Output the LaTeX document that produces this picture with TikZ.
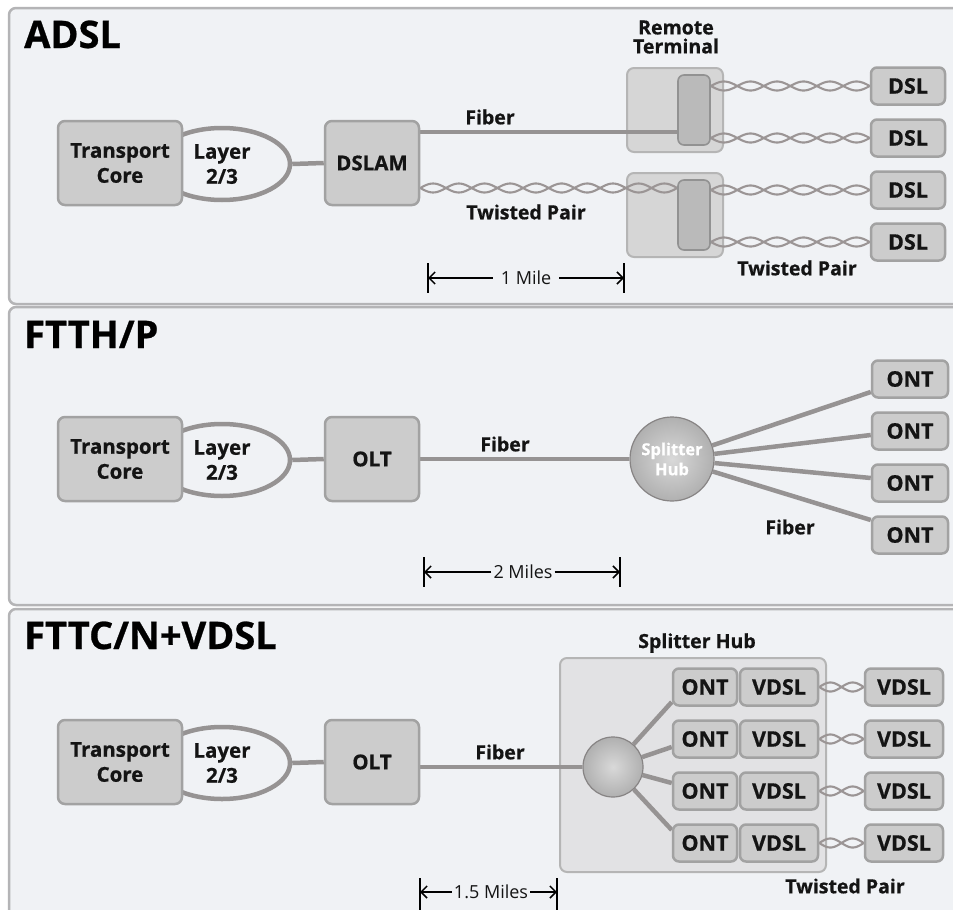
\documentclass[tikz,border=0pt]{standalone}
\usepackage{fontspec}
\setmainfont{Open Sans}[BoldFeatures={FakeBold=0.7}]
\usetikzlibrary{shapes.geometric,arrows.meta,calc}

\definecolor{panelbg}{RGB}{240,242,245}
\definecolor{panelrule}{RGB}{180,180,182}
\definecolor{boxfill}{RGB}{204,204,204}
\definecolor{boxrule}{RGB}{162,162,162}
\definecolor{wire}{RGB}{150,147,147}
\definecolor{strandc}{RGB}{155,149,149}
\definecolor{rtfill}{RGB}{214,214,214}
\definecolor{rtcore}{RGB}{186,186,186}
\definecolor{hubfill}{RGB}{226,226,228}
\definecolor{ink}{RGB}{20,20,20}

\pgfdeclarelayer{back}
\pgfdeclarelayer{front}
\pgfsetlayers{back,main,front}

% a twisted copper pair between two points on one horizontal line
\newcommand\twistpair[2]{%
  \foreach \sgn in {1,-1}{%
    \draw[strand] let \p1=(#1), \p2=(#2),
        \n1={scalar(\x1)}, \n2={scalar(\x2)}, \n3={scalar(-\y1)},
        \n4={max(1,round((scalar(\x2)-scalar(\x1))/27))} in
      plot[variable=\t, domain=\n1:\n2, samples=140]
        ({\t},{\n3+\sgn*4.5*sin(180*\n4*((\t-\n1)/(\n2-\n1)))});
  }%
}

\begin{document}
\begin{tikzpicture}[x=1pt,y=-1pt,
  panel/.style={draw=panelrule, line width=2.5pt, fill=panelbg, rounded corners=7pt},
  unit/.style={draw=boxrule, line width=2.5pt, fill=boxfill, rounded corners=7pt,
    text=ink, font=\fontsize{20.5}{25}\selectfont\bfseries, align=center, inner sep=0pt},
  tcbox/.style={unit, minimum width=124pt, minimum height=84pt},
  midbox/.style={unit, minimum width=94pt, minimum height=84pt},
  endbox/.style={unit, rounded corners=6pt, minimum width=74pt, minimum height=37pt,
    font=\fontsize{21.5}{24}\selectfont\bfseries},
  loop/.style={ellipse, draw=wire, line width=4.5pt, fill=panelbg, minimum width=136pt,
    minimum height=72pt, inner sep=0pt, text=ink, align=center,
    font=\fontsize{20.5}{25}\selectfont\bfseries},
  rtbox/.style={draw=boxrule!80, line width=2pt, fill=rtfill, rounded corners=7pt,
    minimum width=96pt, minimum height=84pt, inner sep=0pt},
  rtin/.style={draw=boxrule!90!black, line width=1.6pt, fill=rtcore, rounded corners=6pt,
    minimum width=32pt, minimum height=70pt, inner sep=0pt},
  hubbox/.style={draw=boxrule!80, line width=2pt, fill=hubfill, rounded corners=7pt,
    minimum width=266pt, minimum height=214pt, inner sep=0pt},
  sphere/.style={circle, draw=wire!90!black, line width=1.2pt, shading=radial,
    inner color=gray!30, outer color=gray!62, inner sep=0pt},
  wire/.style={draw=wire, line width=4.5pt},
  strand/.style={draw=strandc, line width=2.1pt},
  lbl/.style={text=ink, font=\fontsize{19.5}{21}\selectfont\bfseries, inner sep=0pt, align=center},
  ttl/.style={text=black, font=\fontsize{38}{42}\selectfont\bfseries, inner sep=0pt, anchor=base west},
  dimtext/.style={text=ink, font=\fontsize{18}{20}\selectfont, inner ysep=0pt, inner xsep=2pt},
  dimbar/.style={draw=black, line width=1.8pt},
  dimarrow/.style={draw=black, line width=1.5pt, -{Straight Barb[length=6pt,width=12pt]}}
]
\useasboundingbox (0,0) rectangle (953,910);

% ---------------- panels ----------------
\begin{pgfonlayer}{back}
  \fill[white] (0,0) rectangle (953,910);
  \draw[panel] (9,8) rectangle (975,304);
  \draw[panel] (9,307) rectangle (975,605);
  \draw[panel] (9,609) rectangle (975,940);
\end{pgfonlayer}

\node[ttl] (tADSL) at (24,48) {ADSL};
\node[ttl] (tFTTH) at (24,348) {FTTH/P};
\node[ttl] (tFTTC) at (24,649) {FTTC/N+VDSL};

% ---------------- ADSL ----------------
\begin{pgfonlayer}{back}
  \node[loop] (ly1) at (222,164) {Layer\\2/3};
  \node[tcbox] (tc1) at (120,163) {Transport\\Core};
  \node[rtbox] (rt1) at (675,110) {};
  \node[rtbox] (rt2) at (675,215) {};
\end{pgfonlayer}
\begin{pgfonlayer}{front}
  \node[midbox] (dslam) at (372,163) {DSLAM};
  \node[rtin] (rt1in) at (694,110) {};
  \node[rtin] (rt2in) at (694,215) {};
  \node[endbox] (dsl1) at (908,86) {DSL};
  \node[endbox] (dsl2) at (908,138) {DSL};
  \node[endbox] (dsl3) at (908,190) {DSL};
  \node[endbox] (dsl4) at (908,242) {DSL};
\end{pgfonlayer}
\node[lbl, font=\fontsize{19.5}{19}\selectfont\bfseries] (rtl) at (676,37) {Remote\\Terminal};
\node[lbl] (fib1) at (490,117) {Fiber};
\node[lbl] (tp1) at (526,212) {Twisted Pair};
\node[lbl] (tp2) at (797,268) {Twisted Pair};

\draw[wire] (ly1.east) -- (dslam.west);
\draw[wire] ([yshift=31pt]dslam.east) -- ([yshift=31pt]dslam.east -| rt1in.west);
\twistpair{[yshift=-25pt]dslam.east}{[yshift=-25pt]dslam.east -| rt2in.west}
\twistpair{rt1in.east |- dsl1.west}{dsl1.west}
\twistpair{rt1in.east |- dsl2.west}{dsl2.west}
\twistpair{rt2in.east |- dsl3.west}{dsl3.west}
\twistpair{rt2in.east |- dsl4.west}{dsl4.west}

\coordinate (m1l) at (428,278);
\coordinate (m1r) at (624,278);
\node[dimtext, inner xsep=8pt] (m1t) at (526,278) {1 Mile};
\draw[dimbar] ([yshift=15pt]m1l) -- ([yshift=-15pt]m1l);
\draw[dimbar] ([yshift=15pt]m1r) -- ([yshift=-15pt]m1r);
\draw[dimarrow] (m1t.west) -- (m1l);
\draw[dimarrow] (m1t.east) -- (m1r);

% ---------------- FTTH/P ----------------
\begin{pgfonlayer}{back}
  \node[loop] (ly2) at (222,460) {Layer\\2/3};
  \node[tcbox] (tc2) at (120,459) {Transport\\Core};
\end{pgfonlayer}
\begin{pgfonlayer}{front}
  \node[midbox] (olt2) at (372,459) {OLT};
  \node[sphere, minimum size=84pt, text=white, align=center,
        font=\fontsize{16.5}{20}\selectfont\bfseries] (hub2) at (672,459) {Splitter\\Hub};
  \node[endbox, minimum width=76pt] (ont1) at (910,379) {ONT};
  \node[endbox, minimum width=76pt] (ont2) at (910,431) {ONT};
  \node[endbox, minimum width=76pt] (ont3) at (910,483) {ONT};
  \node[endbox, minimum width=76pt] (ont4) at (910,535) {ONT};
\end{pgfonlayer}
\node[lbl] (fib2) at (505,444) {Fiber};
\node[lbl] (fib3) at (790,527) {Fiber};

\draw[wire] (ly2.east) -- (olt2.west);
\draw[wire] (olt2.east) -- (hub2);
\draw[wire] (hub2) -- ([yshift=-13pt]ont1.west);
\draw[wire] (hub2) -- ([yshift=-4pt]ont2.west);
\draw[wire] (hub2) -- ([yshift=5pt]ont3.west);
\draw[wire] (hub2) -- ([yshift=15pt]ont4.west);

\coordinate (m2l) at (424,572);
\coordinate (m2r) at (620,572);
\node[dimtext] (m2t) at (523,572) {2 Miles};
\draw[dimbar] ([yshift=15pt]m2l) -- ([yshift=-15pt]m2l);
\draw[dimbar] ([yshift=15pt]m2r) -- ([yshift=-15pt]m2r);
\draw[dimarrow] (m2t.west) -- (m2l);
\draw[dimarrow] (m2t.east) -- (m2r);

% ---------------- FTTC/N+VDSL ----------------
\begin{pgfonlayer}{back}
  \node[loop] (ly3) at (222,763) {Layer\\2/3};
  \node[tcbox] (tc3) at (120,762) {Transport\\Core};
  \node[hubbox] (shb) at (693,765) {};
\end{pgfonlayer}
\begin{pgfonlayer}{front}
  \node[midbox] (olt3) at (372,762) {OLT};
  \node[sphere, minimum size=60pt] (hub3) at (613,767) {};
  \foreach \i/\yy in {1/687,2/739,3/791,4/843}{
    \node[endbox, minimum width=64pt] (ont-\i) at (705,\yy) {ONT};
    \node[endbox, minimum width=78pt] (vin-\i) at (779,\yy) {VDSL};
    \node[endbox, minimum width=78pt] (vout-\i) at (904,\yy) {VDSL};
  }
\end{pgfonlayer}
\node[lbl] (shl) at (697,643) {Splitter Hub};
\node[lbl] (fib4) at (500,752) {Fiber};
\node[lbl] (tp3) at (845,886) {Twisted Pair};

\draw[wire] (ly3.east) -- (olt3.west);
\draw[wire] (olt3.east |- hub3) -- (hub3);
\draw[wire] (hub3) -- ([yshift=-15pt]ont-1.west);
\draw[wire] (hub3) -- ([yshift=-8pt]ont-2.west);
\draw[wire] (hub3) -- ([yshift=8pt]ont-3.west);
\draw[wire] (hub3) -- ([yshift=13pt]ont-4.west);
\foreach \i in {1,...,4}{\twistpair{vin-\i.east}{vout-\i.west}}

\coordinate (m3l) at (420,892);
\coordinate (m3r) at (557,892);
\node[dimtext] (m3t) at (491,892) {1.5 Miles};
\draw[dimbar] ([yshift=14pt]m3l) -- ([yshift=-20pt]m3l);
\draw[dimbar] ([yshift=14pt]m3r) -- ([yshift=-20pt]m3r);
\draw[dimarrow] (m3t.west) -- (m3l);
\draw[dimarrow] (m3t.east) -- (m3r);
\end{tikzpicture}
\end{document}
